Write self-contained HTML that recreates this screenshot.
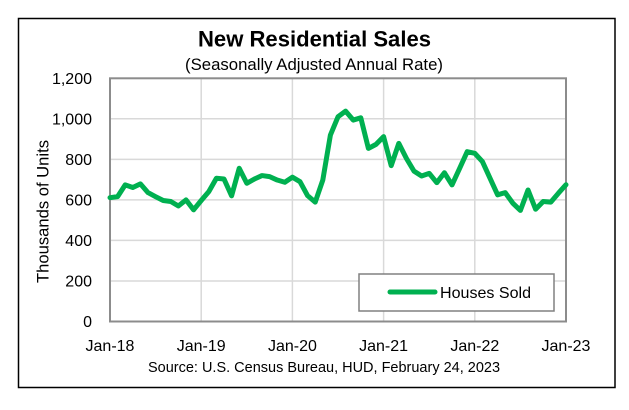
<!DOCTYPE html>
<html><head><meta charset="utf-8"><style>
html,body{margin:0;padding:0;background:#fff;}
svg{display:block;}
text{font-family:"Liberation Sans",sans-serif;fill:#000;}
</style></head><body>
<svg width="629" height="410" viewBox="0 0 629 410" xmlns="http://www.w3.org/2000/svg">
<rect x="0" y="0" width="629" height="410" fill="#fff"/>
<rect x="18.5" y="18.5" width="596.5" height="369" fill="#fff" stroke="#000" stroke-width="1.5"/>
<text x="314.5" y="46.5" font-size="22" font-weight="bold" text-anchor="middle" textLength="233" lengthAdjust="spacingAndGlyphs">New Residential Sales</text>
<text x="314" y="70" font-size="16.5" text-anchor="middle" textLength="258" lengthAdjust="spacingAndGlyphs">(Seasonally Adjusted Annual Rate)</text>
<g stroke="#d9d9d9" stroke-width="1.5">
<line x1="110" y1="281" x2="566" y2="281"/>
<line x1="110" y1="240.4" x2="566" y2="240.4"/>
<line x1="110" y1="199.9" x2="566" y2="199.9"/>
<line x1="110" y1="159.4" x2="566" y2="159.4"/>
<line x1="110" y1="118.8" x2="566" y2="118.8"/>
<line x1="201.2" y1="78.3" x2="201.2" y2="321.5"/>
<line x1="292.4" y1="78.3" x2="292.4" y2="321.5"/>
<line x1="383.6" y1="78.3" x2="383.6" y2="321.5"/>
<line x1="474.8" y1="78.3" x2="474.8" y2="321.5"/>
</g>
<rect x="110" y="78.3" width="456" height="243.2" fill="none" stroke="#8c8c8c" stroke-width="2"/>
<g font-size="16" text-anchor="end">
<text x="92" y="84">1,200</text>
<text x="92" y="124.5">1,000</text>
<text x="92" y="165.1">800</text>
<text x="92" y="205.6">600</text>
<text x="92" y="246.1">400</text>
<text x="92" y="286.7">200</text>
<text x="92" y="327.2">0</text>
</g>
<text transform="translate(48.5,211.5) rotate(-90)" font-size="16.5" text-anchor="middle" textLength="143" lengthAdjust="spacingAndGlyphs">Thousands of Units</text>
<g font-size="16" text-anchor="middle">
<text x="110" y="351">Jan-18</text>
<text x="201.2" y="351">Jan-19</text>
<text x="292.4" y="351">Jan-20</text>
<text x="383.6" y="351">Jan-21</text>
<text x="474.8" y="351">Jan-22</text>
<text x="566" y="351">Jan-23</text>
</g>
<text x="324" y="372" font-size="15" text-anchor="middle" textLength="352" lengthAdjust="spacingAndGlyphs">Source:  U.S. Census Bureau, HUD, February 24, 2023</text>
<polyline transform="translate(110,321.5) scale(7.6,-0.20267)" vector-effect="non-scaling-stroke" fill="none" stroke="#00b050" stroke-width="5" stroke-linejoin="round" stroke-linecap="round"
points="0,611 1,616 2,674 3,661 4,679 5,636 6,616 7,597 8,592 9,570 10,600 11,551 12,597 13,641 14,707 15,703 16,620 17,756 18,682 19,703 20,720 21,715 22,698 23,687 24,712 25,690 26,621 27,589 28,698 29,920 30,1010 31,1038 32,994 33,1005 34,854 35,874 36,912 37,769 38,879 39,805 40,742 41,718 42,731 43,685 44,734 45,674 46,755 47,838 48,830 49,789 50,707 51,625 52,636 53,584 54,548 55,649 56,554 57,592 58,589 59,633 60,675"/>
<rect x="359" y="274" width="195" height="37" fill="#fff" stroke="#808080" stroke-width="1.5"/>
<line x1="390" y1="292" x2="435" y2="292" stroke="#00b050" stroke-width="5" stroke-linecap="round"/>
<text x="440" y="298" font-size="16" textLength="91" lengthAdjust="spacingAndGlyphs">Houses Sold</text>
</svg>
</body></html>
